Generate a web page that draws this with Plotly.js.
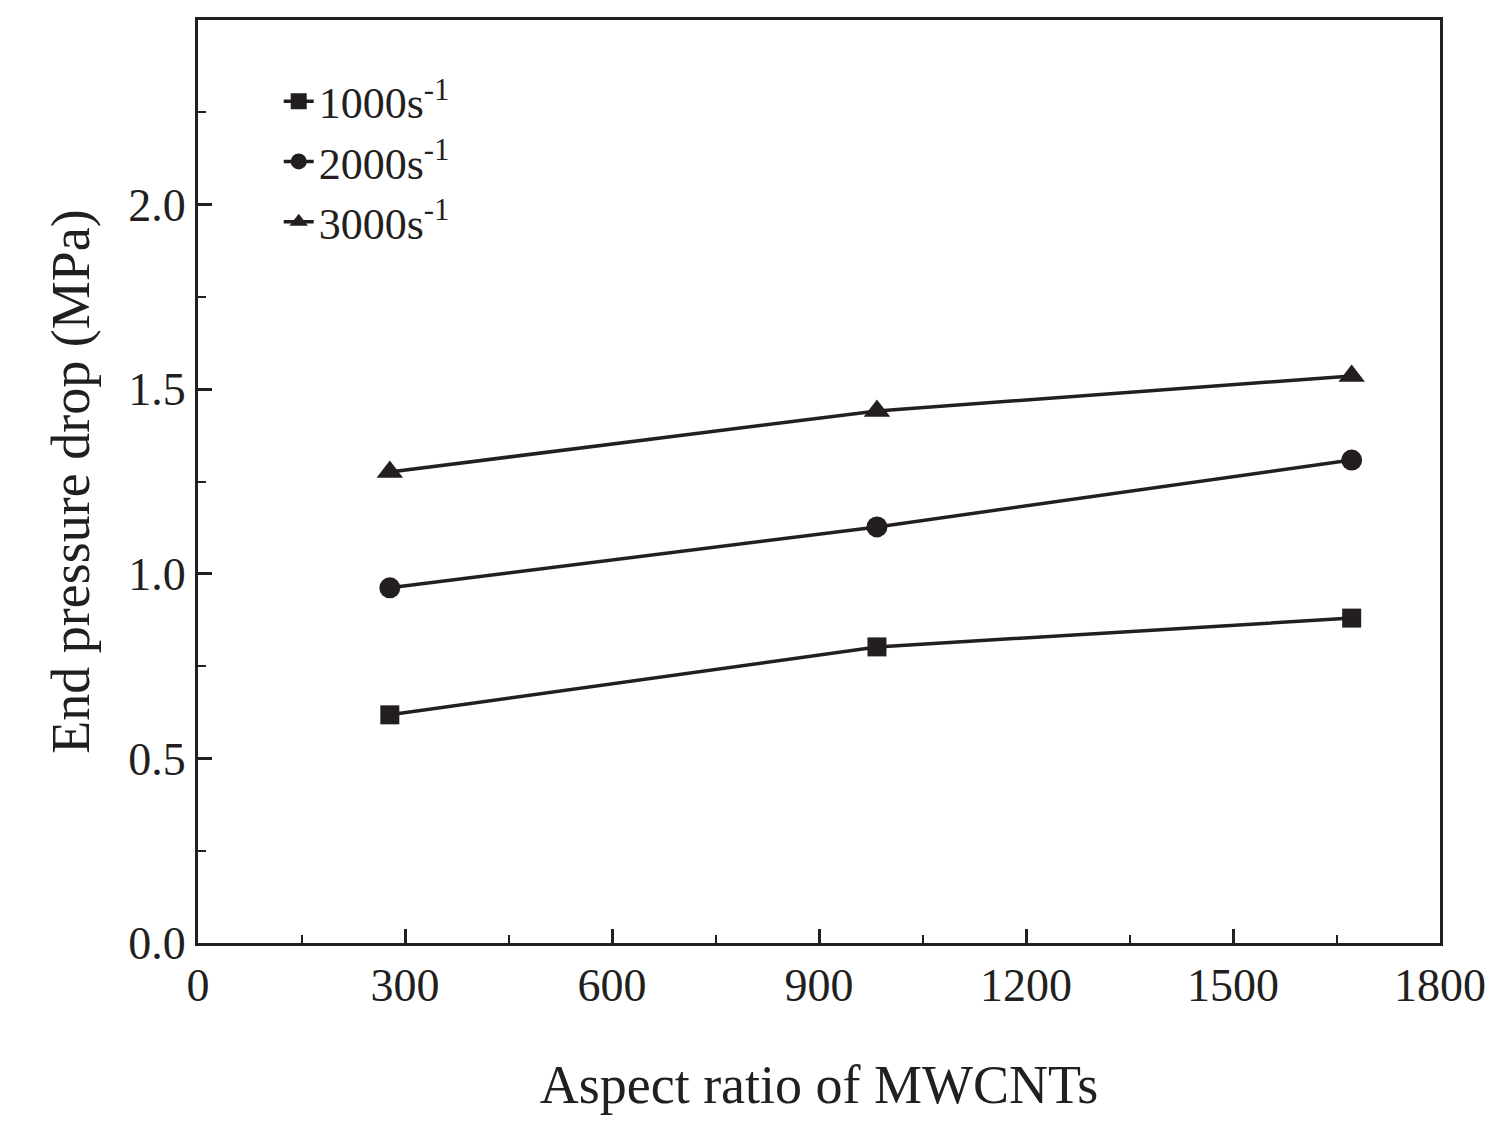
<!DOCTYPE html>
<html>
<head>
<script src="https://cdn.plot.ly/plotly-3.0.1.min.js"></script>
<style>body{margin:0;background:#fff}</style>
</head>
<body>
<div id="chart" style="width:1490px;height:1130px"></div>
<script>
const aspectRatio = [278, 984, 1672];
const rate1000 = [0.618, 0.802, 0.880];
const rate2000 = [0.962, 1.127, 1.308];
const rate3000 = [1.276, 1.441, 1.536];
const seriesNames = ['1000s<sup>-1</sup>', '2000s<sup>-1</sup>', '3000s<sup>-1</sup>'];
const xTicks = [0, 300, 600, 900, 1200, 1500, 1800];
const yTicks = [0, 0.5, 1.0, 1.5, 2.0, 2.5];

const symbols = ['square', 'circle', 'triangle-up'];
const sizes = [19, 21, 23];
const traces = [rate1000, rate2000, rate3000].map((ys, i) => ({
    x: aspectRatio,
    y: ys,
    type: 'scatter',
    mode: 'lines+markers',
    name: seriesNames[i],
    cliponaxis: false,
    line: { color: '#231f20', width: 3.5 },
    marker: { symbol: symbols[i], size: sizes[i], color: '#231f20' },
}));

const font = { family: 'Liberation Serif, Times New Roman, serif', color: '#231f20' };

const axisBase = {
    showgrid: false,
    zeroline: false,
    showline: true,
    mirror: true,
    linecolor: '#231f20',
    linewidth: 3,
    ticks: 'inside',
    ticklen: 14,
    tickwidth: 2.5,
    tickcolor: '#231f20',
    tickfont: { ...font, size: 46 },
};

const layout = {
    width: 1490,
    height: 1130,
    margin: { t: 20, r: 50, b: 187, l: 198 },
    paper_bgcolor: '#fff',
    plot_bgcolor: '#fff',
    font: font,
    showlegend: true,
    legend: {
        x: 0.065, y: 0.95, xanchor: 'left', yanchor: 'top',
        font: { ...font, size: 44 },
        bgcolor: 'rgba(0,0,0,0)',
        tracegroupgap: 12,
    },
    xaxis: {
        ...axisBase,
        range: [0, 1800],
        tickvals: xTicks,
        minor: { dtick: 150, ticks: 'inside', ticklen: 8, tickwidth: 2, tickcolor: '#231f20' },
        title: { text: 'Aspect ratio of MWCNTs', font: { ...font, size: 54 }, standoff: 55 },
    },
    yaxis: {
        ...axisBase,
        range: [0, 2.5],
        tickvals: yTicks,
        ticktext: yTicks.map(v => v.toFixed(1)),
        minor: { dtick: 0.25, ticks: 'inside', ticklen: 8, tickwidth: 2, tickcolor: '#231f20' },
        title: { text: 'End pressure drop (MPa)', font: { ...font, size: 54 }, standoff: 22 },
    },
};

Plotly.newPlot('chart', traces, layout, { displayModeBar: false });
</script>
</body>
</html>
